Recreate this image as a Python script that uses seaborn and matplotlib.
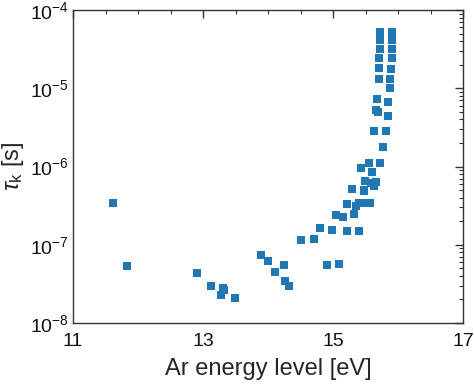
import math
import matplotlib
matplotlib.use("Agg")
import matplotlib.pyplot as plt
import matplotlib.ticker as mticker
import seaborn as sns
import pandas as pd

energy = [11.62, 11.83, 12.91, 13.12, 13.31, 13.32, 13.28, 13.49, 13.89, 14.00,
          14.10, 14.24, 14.26, 14.32, 14.51, 14.70, 14.80, 14.98, 14.91, 15.09,
          15.22, 15.40, 15.04, 15.16, 15.33, 15.21, 15.35, 15.40, 15.53, 15.57,
          15.29, 15.47, 15.47, 15.49, 15.58, 15.63, 15.66, 15.43, 15.56, 15.60,
          15.73, 15.77, 15.63, 15.81, 15.66, 15.69, 15.84, 15.67, 15.85,
          15.73, 15.72, 15.72, 15.71, 15.71, 15.70,
          15.91, 15.91, 15.90, 15.90, 15.89, 15.88, 15.87]
tau = [3.4e-7, 5.4e-8, 4.4e-8, 2.95e-8, 2.8e-8, 2.63e-8, 2.28e-8, 2.1e-8, 7.3e-8, 6.2e-8,
       4.45e-8, 5.5e-8, 3.47e-8, 2.97e-8, 1.15e-7, 1.17e-7, 1.65e-7, 1.55e-7, 5.5e-8, 5.6e-8,
       1.51e-7, 1.51e-7, 2.4e-7, 2.27e-7, 2.47e-7, 3.3e-7, 3.1e-7, 3.4e-7, 3.4e-7, 3.45e-7,
       5.1e-7, 5.0e-7, 4.8e-7, 6.5e-7, 6.2e-7, 5.6e-7, 6.4e-7, 9.7e-7, 1.12e-6, 8.6e-7,
       1.12e-6, 1.79e-6, 2.86e-6, 2.86e-6, 5.27e-6, 5.0e-6, 4.39e-6, 7.2e-6, 6.6e-6,
       5.28e-5, 4.14e-5, 3.18e-5, 2.42e-5, 1.80e-5, 1.30e-5,
       5.28e-5, 4.14e-5, 3.18e-5, 2.42e-5, 1.76e-5, 1.30e-5, 1.02e-5]

xticks = [11, 13, 15, 17]
yticks = [1e-8, 1e-7, 1e-6, 1e-5, 1e-4]

df = pd.DataFrame({"energy": energy, "tau": tau})

sns.set_style("white")
plt.rcParams['font.family'] = ['Liberation Sans', 'DejaVu Sans']
plt.rcParams['mathtext.fontset'] = 'custom'
plt.rcParams['mathtext.rm'] = 'Liberation Sans'
plt.rcParams['mathtext.it'] = 'Liberation Sans:italic'

fig, ax = plt.subplots(figsize=(4.74, 3.86), dpi=100)
fig.subplots_adjust(left=73/474, right=463/474, top=1-10/386, bottom=1-323/386)

sns.scatterplot(data=df, x="energy", y="tau", marker="s", s=32, color="#1f77b4",
                linewidth=0, ax=ax)

ax.set_yscale("log")
ax.set_xlim(11, 17)
ax.set_ylim(1e-8, 1e-4)
ax.set_xticks(xticks)
ax.set_xticklabels([str(t) for t in xticks])
ax.xaxis.set_minor_locator(mticker.MultipleLocator(0.5))
ax.set_yticks(yticks)
ax.set_yticklabels([r"10$^{%d}$" % int(round(math.log10(v))) for v in yticks])
ax.yaxis.set_minor_locator(mticker.LogLocator(base=10, subs=range(2, 10), numticks=20))
ax.yaxis.set_minor_formatter(mticker.NullFormatter())

ax.tick_params(which="both", direction="in", top=True, right=True, colors="#333333",
               labelcolor="#111111", labelsize=14)
ax.tick_params(axis="x", which="major", pad=7)
ax.tick_params(axis="y", which="major", pad=3)
ax.tick_params(which="major", length=6, width=1)
ax.tick_params(which="minor", length=3, width=0.8)
for sp in ax.spines.values():
    sp.set_color("#333333")
    sp.set_linewidth(1)

ax.set_xlabel("Ar energy level [eV]", fontsize=17, labelpad=6)
ax.set_ylabel(r"$\tau_{\mathrm{k}}$ [s]", fontsize=17, labelpad=3)

fig.savefig("out.png", dpi=100)
